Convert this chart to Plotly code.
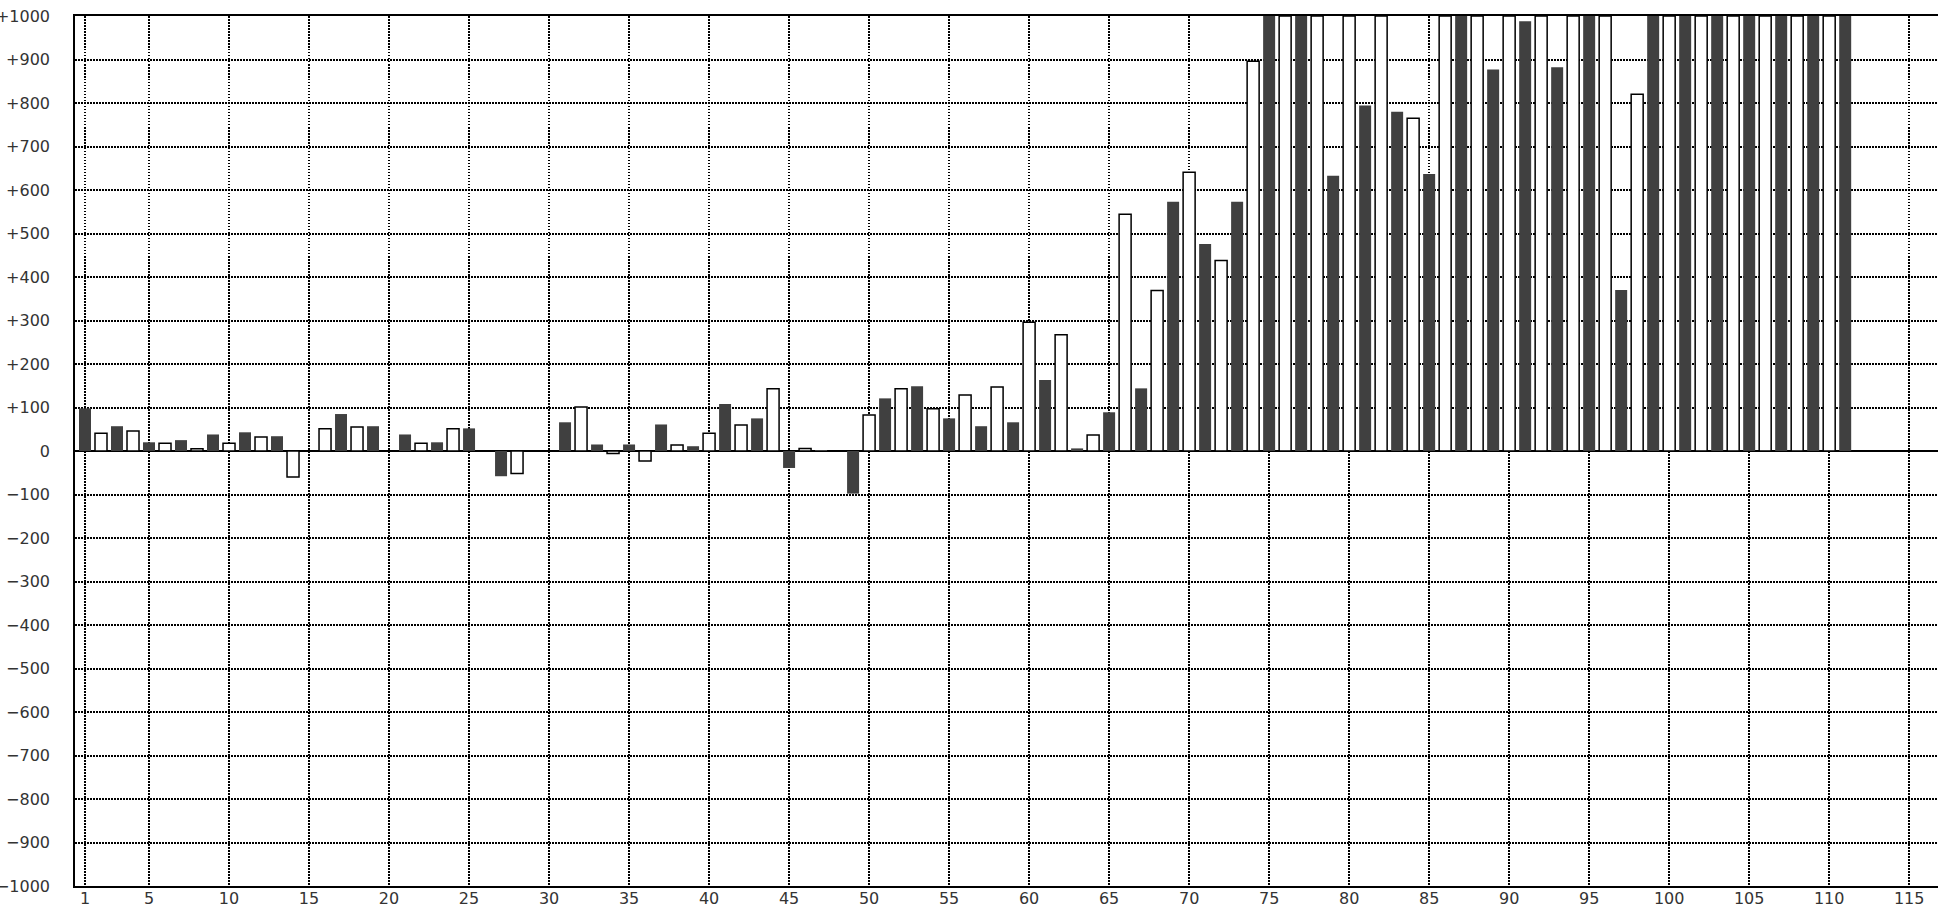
import plotly.graph_objects as go

# Odd positions are drawn as dark bars, even positions as white (outlined) bars.
dark_x = [1, 3, 5, 7, 9, 11, 13, 17, 19, 21, 23, 25, 27, 31, 33, 35, 37, 39, 41, 43, 45, 47, 49,
          51, 53, 55, 57, 59, 61, 63, 65, 67, 69, 71, 73, 75, 77, 79, 81, 83, 85, 87, 89, 91, 93,
          95, 97, 99, 101, 103, 105, 107, 109, 111]
dark_y = [98, 57, 20, 25, 38, 43, 34, 85, 57, 38, 20, 52, -58, 66, 15, 15, 61, 11, 108, 75, -39, 2, -98,
          121, 149, 75, 57, 66, 163, 6, 89, 144, 573, 476, 573, 1000, 1000, 633, 794, 780, 637, 1000, 877, 988, 882,
          1000, 370, 1000, 1000, 1000, 1000, 1000, 1000, 1000]

white_x = [2, 4, 6, 8, 10, 12, 14, 16, 18, 22, 24, 28, 32, 34, 36, 38, 40, 42, 44, 46,
           50, 52, 54, 56, 58, 60, 62, 64, 66, 68, 70, 72, 74, 76, 78, 80, 82, 84, 86, 88, 90,
           92, 94, 96, 98, 100, 102, 104, 106, 108, 110]
white_y = [41, 46, 18, 5, 18, 32, -60, 51, 55, 18, 51, -52, 101, -6, -23, 14, 41, 60, 143, 6,
           83, 143, 97, 129, 147, 296, 267, 37, 544, 369, 641, 438, 896, 1000, 1000, 1000, 1000, 765, 1000, 1000, 1000,
           1000, 1000, 1000, 820, 1000, 1000, 1000, 1000, 1000, 1000]

x_ticks = [1] + list(range(5, 120, 5))
y_ticks = list(range(-1000, 1001, 100))
y_tick_text = [("+%d" % v if v > 0 else ("\u2212%d" % -v if v < 0 else "0")) for v in y_ticks]

fig = go.Figure()
fig.add_trace(go.Bar(x=dark_x, y=dark_y, width=0.75,
                     marker=dict(color="#404040", line=dict(width=0))))
fig.add_trace(go.Bar(x=white_x, y=white_y, width=0.75,
                     marker=dict(color="white", line=dict(color="black", width=1.5))))

grid = dict(showgrid=True, gridcolor="black", gridwidth=1.5, griddash="1.5px,1.5px")
fig.update_layout(
    width=1938, height=908,
    margin=dict(l=75, r=0, t=16, b=22),
    paper_bgcolor="white", plot_bgcolor="white",
    barmode="overlay", showlegend=False,
    font=dict(family="DejaVu Sans", size=16, color="#333"),
    xaxis=dict(range=[0.375, 116.8], tickmode="array", tickvals=x_ticks,
               ticktext=[str(v) for v in x_ticks], ticks="", ticklen=0,
               automargin=False, ticklabelstandoff=-3,
               showline=True, linecolor="black", linewidth=1.5, mirror=True,
               zeroline=False, **grid),
    yaxis=dict(range=[-1000, 1000], tickmode="array", tickvals=y_ticks,
               ticktext=y_tick_text, ticks="", ticklabelstandoff=20, automargin=False,
               showline=True, linecolor="black", linewidth=1.5,
               zeroline=True, zerolinecolor="black", zerolinewidth=1.5, **grid),
)
fig.write_html("out.html", config={"displayModeBar": False},
               post_script="document.body.style.margin='0';document.body.style.overflow='hidden';")
